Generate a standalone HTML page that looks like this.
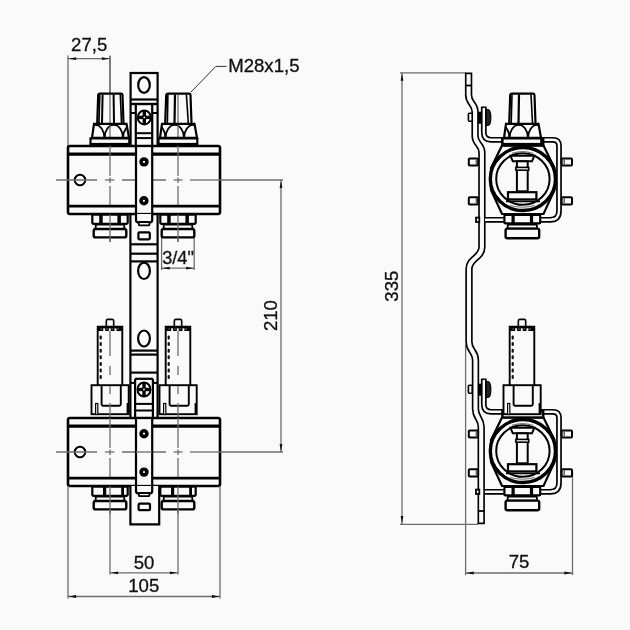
<!DOCTYPE html>
<html><head><meta charset="utf-8"><style>
html,body{margin:0;padding:0;background:#fafafa;}
svg{display:block;will-change:transform;}
text{fill:#111;font-family:"Liberation Sans",sans-serif;}
</style></head><body>
<svg width="630" height="630" viewBox="0 0 630 630">
<rect width="630" height="630" fill="#fafafa"/>
<line x1="68" y1="55.5" x2="68" y2="146" stroke="#6c6c6c" stroke-width="1.3" />
<line x1="110" y1="55.5" x2="110" y2="93" stroke="#6c6c6c" stroke-width="1.3" />
<line x1="68" y1="58.7" x2="110" y2="58.7" stroke="#6c6c6c" stroke-width="1.3" />
<path d="M68.6,58.7 L76.1,57.3 L76.1,60.1 Z" fill="#111"/>
<path d="M109.4,58.7 L101.9,57.3 L101.9,60.1 Z" fill="#111"/>
<text x="89.2" y="50.8" font-size="18.6" text-anchor="middle" stroke="#111" stroke-width="0.3" >27,5</text>
<path d="M191,92 L215.8,66.4 H226.5" stroke="#333" stroke-width="1" fill="none" />
<text x="228.2" y="72" font-size="18.6" text-anchor="start" stroke="#111" stroke-width="0.3" >M28x1,5</text>
<rect x="130.6" y="73" width="27" height="26.5" rx="0" stroke="#000" stroke-width="2.2" fill="#fafafa"/>
<ellipse cx="144" cy="85" rx="5.8" ry="7.8" stroke="#000" stroke-width="2.2" fill="none"/>
<line x1="130.6" y1="104" x2="157.6" y2="104" stroke="#000" stroke-width="2.4" />
<line x1="130.6" y1="100" x2="130.6" y2="146" stroke="#000" stroke-width="2.2" />
<line x1="157.6" y1="100" x2="157.6" y2="146" stroke="#000" stroke-width="2.2" />
<line x1="135.8" y1="104" x2="135.8" y2="146" stroke="#000" stroke-width="2.2" />
<line x1="152.2" y1="104" x2="152.2" y2="146" stroke="#000" stroke-width="2.2" />
<line x1="130.6" y1="113" x2="135.8" y2="113" stroke="#000" stroke-width="2" />
<line x1="152.2" y1="113" x2="157.6" y2="113" stroke="#000" stroke-width="2" />
<line x1="135.8" y1="133.2" x2="152.2" y2="133.2" stroke="#000" stroke-width="2" />
<line x1="135.8" y1="138.1" x2="152.2" y2="138.1" stroke="#000" stroke-width="2" />
<ellipse cx="144.3" cy="117.4" rx="6.5" ry="7" stroke="#000" stroke-width="2" fill="#fafafa"/>
<rect x="142.6" y="110.9" width="3.4" height="13" rx="0"  fill="#000"/>
<rect x="138.3" y="115.7" width="12" height="3.4" rx="0"  fill="#000"/>
<circle cx="144.3" cy="117.4" r="0.9"  fill="#fafafa"/>
<line x1="110" y1="56" x2="110" y2="146" stroke="#6c6c6c" stroke-width="1.3" />
<line x1="178" y1="93" x2="178" y2="146" stroke="#6c6c6c" stroke-width="1.3" />
<g transform="translate(110,0)">
<path d="M-12.8,123.5 L-11.8,95 Q-11.6,93.6 -10.2,93.6 L11,93.6 Q12.4,93.6 12.5,95 L13.5,123.5" stroke="#000" stroke-width="2.2" fill="#fafafa" />
<line x1="-10.2" y1="94.5" x2="-11" y2="123" stroke="#000" stroke-width="1.6" />
<line x1="-7.4" y1="94.5" x2="-8" y2="123" stroke="#000" stroke-width="2" />
<line x1="3.6" y1="94.5" x2="4" y2="123" stroke="#000" stroke-width="2" />
<line x1="10.3" y1="94.5" x2="11.5" y2="123" stroke="#000" stroke-width="1.6" />
<line x1="0" y1="94.5" x2="0" y2="123" stroke="#6c6c6c" stroke-width="1.3" />
<clipPath id="nc1"><path d="M-16,123.8 L16.5,123.8 L19,137.8 L-18,137.8 Z"/></clipPath>
<path d="M-16,123.8 L16.5,123.8 L19,137.8 L-18,137.8 Z" stroke="#000" stroke-width="0" fill="#fafafa" />
<g clip-path="url(#nc1)">
<path d="M-42.5,138 A9.25,13.2 0 0 1 -24,138" stroke="#000" stroke-width="1.8" fill="none" />
<path d="M-24,138 A9.25,13.2 0 0 1 -5.5,138" stroke="#000" stroke-width="1.8" fill="none" />
<path d="M-5.5,138 A9.25,13.2 0 0 1 13,138" stroke="#000" stroke-width="1.8" fill="none" />
<path d="M13,138 A9.25,13.2 0 0 1 31.5,138" stroke="#000" stroke-width="1.8" fill="none" />
<path d="M31.5,138 A9.25,13.2 0 0 1 50,138" stroke="#000" stroke-width="1.8" fill="none" />
</g>
<line x1="0" y1="124.5" x2="0" y2="137" stroke="#6c6c6c" stroke-width="1.3" />
<path d="M-16,123.8 L16.5,123.8 L19,137.8 L-18,137.8 Z" stroke="#000" stroke-width="2.2" fill="none" />
<rect x="-19.5" y="138.4" width="38.8" height="5.6" rx="0" stroke="#000" stroke-width="2.2" fill="#fafafa"/>
</g>
<g transform="translate(178,0)">
<path d="M-12.8,123.5 L-11.8,95 Q-11.6,93.6 -10.2,93.6 L11,93.6 Q12.4,93.6 12.5,95 L13.5,123.5" stroke="#000" stroke-width="2.2" fill="#fafafa" />
<line x1="-10.1" y1="94.5" x2="-10.6" y2="123" stroke="#000" stroke-width="1.6" />
<line x1="-3" y1="94.5" x2="-3.5" y2="123" stroke="#000" stroke-width="2.2" />
<line x1="8.4" y1="94.5" x2="10.3" y2="123" stroke="#000" stroke-width="1.6" />
<line x1="0" y1="94.5" x2="0" y2="123" stroke="#6c6c6c" stroke-width="1.3" />
<clipPath id="nc2"><path d="M-16,123.8 L16.5,123.8 L19,137.8 L-18,137.8 Z"/></clipPath>
<path d="M-16,123.8 L16.5,123.8 L19,137.8 L-18,137.8 Z" stroke="#000" stroke-width="0" fill="#fafafa" />
<g clip-path="url(#nc2)">
<path d="M-49.5,138 A9.25,13.2 0 0 1 -31,138" stroke="#000" stroke-width="1.8" fill="none" />
<path d="M-31,138 A9.25,13.2 0 0 1 -12.5,138" stroke="#000" stroke-width="1.8" fill="none" />
<path d="M-12.5,138 A9.25,13.2 0 0 1 6,138" stroke="#000" stroke-width="1.8" fill="none" />
<path d="M6,138 A9.25,13.2 0 0 1 24.5,138" stroke="#000" stroke-width="1.8" fill="none" />
<path d="M24.5,138 A9.25,13.2 0 0 1 43,138" stroke="#000" stroke-width="1.8" fill="none" />
</g>
<line x1="0" y1="124.5" x2="0" y2="137" stroke="#6c6c6c" stroke-width="1.3" />
<path d="M-16,123.8 L16.5,123.8 L19,137.8 L-18,137.8 Z" stroke="#000" stroke-width="2.2" fill="none" />
<rect x="-19.5" y="138.4" width="38.8" height="5.6" rx="0" stroke="#000" stroke-width="2.2" fill="#fafafa"/>
</g>
<path d="M70,146 H218 Q220,146 220,148 V212 Q220,214 218,214 H70 Q68,214 68,212 V148 Q68,146 70,146 Z" stroke="#000" stroke-width="2.6" fill="#fafafa" />
<line x1="68" y1="154.2" x2="220" y2="154.2" stroke="#000" stroke-width="3.2" />
<line x1="68" y1="206.1" x2="220" y2="206.1" stroke="#000" stroke-width="2.8" />
<circle cx="80" cy="180" r="5.3" stroke="#000" stroke-width="2" fill="none"/>
<line x1="56" y1="180" x2="97" y2="180" stroke="#6c6c6c" stroke-width="1.3" />
<line x1="105" y1="180" x2="114.5" y2="180" stroke="#6c6c6c" stroke-width="1.3" />
<line x1="122" y1="180" x2="166" y2="180" stroke="#6c6c6c" stroke-width="1.3" />
<line x1="173.5" y1="180" x2="182.5" y2="180" stroke="#6c6c6c" stroke-width="1.3" />
<line x1="190" y1="180" x2="220" y2="180" stroke="#6c6c6c" stroke-width="1.3" />
<line x1="110" y1="146" x2="110" y2="176" stroke="#6c6c6c" stroke-width="1.3" />
<line x1="110" y1="177.5" x2="110" y2="183" stroke="#6c6c6c" stroke-width="1.3" />
<line x1="110" y1="186" x2="110" y2="205" stroke="#6c6c6c" stroke-width="1.3" />
<line x1="110" y1="215" x2="110" y2="242" stroke="#6c6c6c" stroke-width="1.3" />
<line x1="178" y1="146" x2="178" y2="176" stroke="#6c6c6c" stroke-width="1.3" />
<line x1="178" y1="177.5" x2="178" y2="183" stroke="#6c6c6c" stroke-width="1.3" />
<line x1="178" y1="186" x2="178" y2="205" stroke="#6c6c6c" stroke-width="1.3" />
<line x1="178" y1="215" x2="178" y2="242" stroke="#6c6c6c" stroke-width="1.3" />
<rect x="136" y="147.5" width="16" height="65" rx="0"  fill="#fafafa"/>
<line x1="136" y1="146" x2="136" y2="214" stroke="#000" stroke-width="2.2" />
<line x1="152.2" y1="146" x2="152.2" y2="214" stroke="#000" stroke-width="2.2" />
<circle cx="144" cy="161.9" r="4.7"  fill="#000"/>
<circle cx="144" cy="161.9" r="1.1"  fill="#fafafa"/>
<circle cx="143.9" cy="200.8" r="4.7"  fill="#000"/>
<circle cx="143.9" cy="200.8" r="1.1"  fill="#fafafa"/>
<line x1="220" y1="180" x2="283" y2="180" stroke="#6c6c6c" stroke-width="1.3" />
<g transform="translate(110,214)">
<rect x="-17.7" y="0.6" width="35.4" height="9.2" rx="1" stroke="#000" stroke-width="2.2" fill="#fafafa"/>
<rect x="-10.8" y="0.6" width="3.5" height="9.2" rx="0"  fill="#000"/>
<rect x="7.4" y="0.6" width="3.5" height="9.2" rx="0"  fill="#000"/>
<rect x="-14.3" y="10.6" width="28.6" height="4.6" rx="1" stroke="#000" stroke-width="1.8" fill="#fafafa"/>
<rect x="-16.3" y="15" width="32.6" height="8.4" rx="2" stroke="#000" stroke-width="2.4" fill="#fafafa"/>
<line x1="0" y1="0.5" x2="0" y2="28" stroke="#6c6c6c" stroke-width="1.3" />
</g>
<g transform="translate(178,214)">
<rect x="-17.7" y="0.6" width="35.4" height="9.2" rx="1" stroke="#000" stroke-width="2.2" fill="#fafafa"/>
<rect x="-10.8" y="0.6" width="3.5" height="9.2" rx="0"  fill="#000"/>
<rect x="7.4" y="0.6" width="3.5" height="9.2" rx="0"  fill="#000"/>
<rect x="-14.3" y="10.6" width="28.6" height="4.6" rx="1" stroke="#000" stroke-width="1.8" fill="#fafafa"/>
<rect x="-16.3" y="15" width="32.6" height="8.4" rx="2" stroke="#000" stroke-width="2.4" fill="#fafafa"/>
<line x1="0" y1="0.5" x2="0" y2="28" stroke="#6c6c6c" stroke-width="1.3" />
</g>
<line x1="130.4" y1="214" x2="130.4" y2="418" stroke="#000" stroke-width="2.2" />
<line x1="157.6" y1="214" x2="157.6" y2="418" stroke="#000" stroke-width="2.2" />
<path d="M136,214 V220 Q136,222.3 138.3,222.3 H149.9 Q152.2,222.3 152.2,220 V214" stroke="#000" stroke-width="2.2" fill="#fafafa" />
<rect x="138.8" y="222" width="10.6" height="3.4" rx="1" stroke="#000" stroke-width="1.8" fill="#fafafa"/>
<rect x="138.4" y="232.3" width="11.4" height="7" rx="1" stroke="#000" stroke-width="2.2" fill="#fafafa"/>
<line x1="130.4" y1="244.3" x2="157.6" y2="244.3" stroke="#000" stroke-width="2.2" />
<line x1="130.4" y1="253.7" x2="157.6" y2="253.7" stroke="#000" stroke-width="2.2" />
<line x1="130.4" y1="261.4" x2="157.6" y2="261.4" stroke="#000" stroke-width="2.2" />
<ellipse cx="144" cy="270.8" rx="5.9" ry="8.2" stroke="#000" stroke-width="2.2" fill="none"/>
<line x1="161.6" y1="238" x2="161.6" y2="270" stroke="#6c6c6c" stroke-width="1.3" />
<line x1="194.2" y1="238" x2="194.2" y2="270" stroke="#6c6c6c" stroke-width="1.3" />
<line x1="161.6" y1="268.2" x2="194.2" y2="268.2" stroke="#6c6c6c" stroke-width="1.3" />
<path d="M162.2,268.2 L169.7,266.8 L169.7,269.6 Z" fill="#111"/>
<path d="M193.6,268.2 L186.1,266.8 L186.1,269.6 Z" fill="#111"/>
<text x="178" y="263.6" font-size="18.2" text-anchor="middle" stroke="#111" stroke-width="0.3" >3/4"</text>
<ellipse cx="144" cy="338.5" rx="5.9" ry="8" stroke="#000" stroke-width="2.2" fill="none"/>
<line x1="130.4" y1="350.6" x2="157.6" y2="350.6" stroke="#000" stroke-width="2.2" />
<line x1="130.4" y1="354.6" x2="157.6" y2="354.6" stroke="#000" stroke-width="2.2" />
<line x1="130.4" y1="372.6" x2="157.6" y2="372.6" stroke="#000" stroke-width="2.2" />
<line x1="135.1" y1="378.8" x2="135.1" y2="418" stroke="#000" stroke-width="2.2" />
<line x1="152.9" y1="378.8" x2="152.9" y2="418" stroke="#000" stroke-width="2.2" />
<line x1="135.1" y1="378.8" x2="152.9" y2="378.8" stroke="#000" stroke-width="2.2" />
<line x1="130.4" y1="382.9" x2="135.1" y2="382.9" stroke="#000" stroke-width="2" />
<line x1="152.9" y1="382.9" x2="157.6" y2="382.9" stroke="#000" stroke-width="2" />
<ellipse cx="144" cy="389.5" rx="6.5" ry="7" stroke="#000" stroke-width="2" fill="#fafafa"/>
<rect x="142.3" y="383" width="3.4" height="13" rx="0"  fill="#000"/>
<rect x="138" y="387.8" width="12" height="3.4" rx="0"  fill="#000"/>
<circle cx="144" cy="389.5" r="0.9"  fill="#fafafa"/>
<line x1="135.1" y1="403.9" x2="152.9" y2="403.9" stroke="#000" stroke-width="2" />
<line x1="135.1" y1="410.5" x2="152.9" y2="410.5" stroke="#000" stroke-width="2" />
<g transform="translate(110,0)">
<rect x="-3.7" y="319.4" width="7.4" height="8" rx="1.5" stroke="#000" stroke-width="1.6" fill="#fafafa"/>
<path d="M-12.3,385 V326.8 H12.3 V385" stroke="#000" stroke-width="1.9" fill="#fafafa" />
<rect x="-13" y="326" width="26" height="5" rx="0"  fill="#000"/>
<rect x="-6.8" y="328.3" width="1.9" height="2.9" rx="0"  fill="#fafafa"/>
<rect x="-1.2" y="328.3" width="1.9" height="2.9" rx="0"  fill="#fafafa"/>
<rect x="4.5" y="328.3" width="1.9" height="2.9" rx="0"  fill="#fafafa"/>
<rect x="-9.5" y="328" width="1.6" height="2" rx="0"  fill="#444"/>
<rect x="-3.9" y="328" width="1.6" height="2" rx="0"  fill="#444"/>
<rect x="1.6" y="328" width="1.6" height="2" rx="0"  fill="#444"/>
<rect x="7.3" y="328" width="1.6" height="2" rx="0"  fill="#444"/>
<rect x="-10.4" y="335.5" width="2.2" height="4" rx="1"  fill="#111"/>
<rect x="-10.4" y="342.1" width="2.2" height="4" rx="1"  fill="#111"/>
<rect x="-10.4" y="348.7" width="2.2" height="4" rx="1"  fill="#111"/>
<rect x="-10.4" y="355.3" width="2.2" height="4" rx="1"  fill="#111"/>
<rect x="-10.4" y="361.9" width="2.2" height="4" rx="1"  fill="#111"/>
<rect x="-10.4" y="368.5" width="2.2" height="4" rx="1"  fill="#111"/>
<rect x="-10.4" y="375.1" width="2.2" height="4" rx="1"  fill="#111"/>
<line x1="0" y1="331" x2="0" y2="356" stroke="#6c6c6c" stroke-width="1.3" />
<line x1="0" y1="366" x2="0" y2="375" stroke="#6c6c6c" stroke-width="1.3" />
<rect x="-18.5" y="385.2" width="37.2" height="29" rx="0" stroke="#000" stroke-width="1.9" fill="#fafafa"/>
<path d="M-8.4,385 V404.3 Q-8.4,405.8 -6.9,405.8 H9.3 Q10.8,405.8 10.8,404.3 V385" stroke="#000" stroke-width="1.9" fill="none" />
<rect x="-14.4" y="403.5" width="2.2" height="11" rx="0" stroke="#000" stroke-width="1.2" fill="#fafafa"/>
<rect x="16.6" y="403" width="2" height="11.3" rx="0"  fill="#000"/>
<line x1="0" y1="386" x2="0" y2="394" stroke="#6c6c6c" stroke-width="1.3" />
<line x1="0" y1="403" x2="0" y2="418" stroke="#6c6c6c" stroke-width="1.3" />
</g>
<g transform="translate(178,0)">
<rect x="-3.7" y="319.4" width="7.4" height="8" rx="1.5" stroke="#000" stroke-width="1.6" fill="#fafafa"/>
<path d="M-12.3,385 V326.8 H12.3 V385" stroke="#000" stroke-width="1.9" fill="#fafafa" />
<rect x="-13" y="326" width="26" height="5" rx="0"  fill="#000"/>
<rect x="-6.8" y="328.3" width="1.9" height="2.9" rx="0"  fill="#fafafa"/>
<rect x="-1.2" y="328.3" width="1.9" height="2.9" rx="0"  fill="#fafafa"/>
<rect x="4.5" y="328.3" width="1.9" height="2.9" rx="0"  fill="#fafafa"/>
<rect x="-9.5" y="328" width="1.6" height="2" rx="0"  fill="#444"/>
<rect x="-3.9" y="328" width="1.6" height="2" rx="0"  fill="#444"/>
<rect x="1.6" y="328" width="1.6" height="2" rx="0"  fill="#444"/>
<rect x="7.3" y="328" width="1.6" height="2" rx="0"  fill="#444"/>
<rect x="-10.4" y="335.5" width="2.2" height="4" rx="1"  fill="#111"/>
<rect x="-10.4" y="342.1" width="2.2" height="4" rx="1"  fill="#111"/>
<rect x="-10.4" y="348.7" width="2.2" height="4" rx="1"  fill="#111"/>
<rect x="-10.4" y="355.3" width="2.2" height="4" rx="1"  fill="#111"/>
<rect x="-10.4" y="361.9" width="2.2" height="4" rx="1"  fill="#111"/>
<rect x="-10.4" y="368.5" width="2.2" height="4" rx="1"  fill="#111"/>
<rect x="-10.4" y="375.1" width="2.2" height="4" rx="1"  fill="#111"/>
<line x1="0" y1="331" x2="0" y2="356" stroke="#6c6c6c" stroke-width="1.3" />
<line x1="0" y1="366" x2="0" y2="375" stroke="#6c6c6c" stroke-width="1.3" />
<rect x="-18.5" y="385.2" width="37.2" height="29" rx="0" stroke="#000" stroke-width="1.9" fill="#fafafa"/>
<path d="M-8.4,385 V404.3 Q-8.4,405.8 -6.9,405.8 H9.3 Q10.8,405.8 10.8,404.3 V385" stroke="#000" stroke-width="1.9" fill="none" />
<rect x="-14.4" y="403.5" width="2.2" height="11" rx="0" stroke="#000" stroke-width="1.2" fill="#fafafa"/>
<rect x="16.6" y="403" width="2" height="11.3" rx="0"  fill="#000"/>
<line x1="0" y1="386" x2="0" y2="394" stroke="#6c6c6c" stroke-width="1.3" />
<line x1="0" y1="403" x2="0" y2="418" stroke="#6c6c6c" stroke-width="1.3" />
</g>
<path d="M70,418 H218 Q220,418 220,420 V484 Q220,486 218,486 H70 Q68,486 68,484 V420 Q68,418 70,418 Z" stroke="#000" stroke-width="2.6" fill="#fafafa" />
<line x1="68" y1="426.2" x2="220" y2="426.2" stroke="#000" stroke-width="3.2" />
<line x1="68" y1="478.1" x2="220" y2="478.1" stroke="#000" stroke-width="2.8" />
<circle cx="80" cy="452" r="5.3" stroke="#000" stroke-width="2" fill="none"/>
<line x1="56" y1="452" x2="97" y2="452" stroke="#6c6c6c" stroke-width="1.3" />
<line x1="105" y1="452" x2="114.5" y2="452" stroke="#6c6c6c" stroke-width="1.3" />
<line x1="122" y1="452" x2="166" y2="452" stroke="#6c6c6c" stroke-width="1.3" />
<line x1="173.5" y1="452" x2="182.5" y2="452" stroke="#6c6c6c" stroke-width="1.3" />
<line x1="190" y1="452" x2="220" y2="452" stroke="#6c6c6c" stroke-width="1.3" />
<line x1="110" y1="418" x2="110" y2="448" stroke="#6c6c6c" stroke-width="1.3" />
<line x1="110" y1="449.5" x2="110" y2="455" stroke="#6c6c6c" stroke-width="1.3" />
<line x1="110" y1="458" x2="110" y2="477" stroke="#6c6c6c" stroke-width="1.3" />
<line x1="110" y1="487" x2="110" y2="510" stroke="#6c6c6c" stroke-width="1.3" />
<line x1="178" y1="418" x2="178" y2="448" stroke="#6c6c6c" stroke-width="1.3" />
<line x1="178" y1="449.5" x2="178" y2="455" stroke="#6c6c6c" stroke-width="1.3" />
<line x1="178" y1="458" x2="178" y2="477" stroke="#6c6c6c" stroke-width="1.3" />
<line x1="178" y1="487" x2="178" y2="510" stroke="#6c6c6c" stroke-width="1.3" />
<rect x="136" y="419.5" width="16" height="65" rx="0"  fill="#fafafa"/>
<line x1="136" y1="418" x2="136" y2="486" stroke="#000" stroke-width="2.2" />
<line x1="152.2" y1="418" x2="152.2" y2="486" stroke="#000" stroke-width="2.2" />
<line x1="136" y1="452" x2="152.2" y2="452" stroke="#6c6c6c" stroke-width="1.3" />
<circle cx="144" cy="433.7" r="4.7"  fill="#000"/>
<circle cx="144" cy="433.7" r="1.1"  fill="#fafafa"/>
<circle cx="144" cy="472.1" r="4.7"  fill="#000"/>
<circle cx="144" cy="472.1" r="1.1"  fill="#fafafa"/>
<line x1="220" y1="452" x2="283" y2="452" stroke="#6c6c6c" stroke-width="1.3" />
<line x1="281" y1="180" x2="281" y2="452" stroke="#6c6c6c" stroke-width="1.3" />
<path d="M281,180.6 L279.6,188.1 L282.4,188.1 Z" fill="#111"/>
<path d="M281,451.4 L279.6,443.9 L282.4,443.9 Z" fill="#111"/>
<text x="0" y="0" font-size="18.6" text-anchor="middle" stroke="#111" stroke-width="0.3" transform="translate(277,315.6) rotate(-90)">210</text>
<g transform="translate(110,486)">
<rect x="-17.7" y="0.6" width="35.4" height="9.2" rx="1" stroke="#000" stroke-width="2.2" fill="#fafafa"/>
<rect x="-7" y="0.6" width="3.2" height="9.2" rx="0"  fill="#000"/>
<rect x="11.2" y="0.6" width="2.8" height="9.2" rx="0"  fill="#000"/>
<rect x="-14.3" y="10.6" width="28.6" height="4.6" rx="1" stroke="#000" stroke-width="1.8" fill="#fafafa"/>
<rect x="-16.3" y="15" width="32.6" height="8.4" rx="2" stroke="#000" stroke-width="2.4" fill="#fafafa"/>
<line x1="0" y1="0.5" x2="0" y2="28" stroke="#6c6c6c" stroke-width="1.3" />
</g>
<g transform="translate(178,486)">
<rect x="-17.7" y="0.6" width="35.4" height="9.2" rx="1" stroke="#000" stroke-width="2.2" fill="#fafafa"/>
<rect x="-7" y="0.6" width="3.2" height="9.2" rx="0"  fill="#000"/>
<rect x="11.2" y="0.6" width="2.8" height="9.2" rx="0"  fill="#000"/>
<rect x="-14.3" y="10.6" width="28.6" height="4.6" rx="1" stroke="#000" stroke-width="1.8" fill="#fafafa"/>
<rect x="-16.3" y="15" width="32.6" height="8.4" rx="2" stroke="#000" stroke-width="2.4" fill="#fafafa"/>
<line x1="0" y1="0.5" x2="0" y2="28" stroke="#6c6c6c" stroke-width="1.3" />
</g>
<path d="M130.4,486 V524.3 H159.2 V486" stroke="#000" stroke-width="2.2" fill="#fafafa" />
<path d="M136,486 V491 Q136,493.4 138.4,493.4 H149.8 Q152.2,493.4 152.2,491 V486" stroke="#000" stroke-width="2.2" fill="#fafafa" />
<rect x="138.8" y="493" width="10.6" height="3.2" rx="1" stroke="#000" stroke-width="1.8" fill="#fafafa"/>
<rect x="138.6" y="503.7" width="11.4" height="6.5" rx="1" stroke="#000" stroke-width="2.2" fill="#fafafa"/>
<line x1="110" y1="510" x2="110" y2="574.5" stroke="#6c6c6c" stroke-width="1.3" />
<line x1="178" y1="510" x2="178" y2="574.5" stroke="#6c6c6c" stroke-width="1.3" />
<line x1="110" y1="572.8" x2="178" y2="572.8" stroke="#6c6c6c" stroke-width="1.3" />
<path d="M110.6,572.8 L118.1,571.4 L118.1,574.2 Z" fill="#111"/>
<path d="M177.4,572.8 L169.9,571.4 L169.9,574.2 Z" fill="#111"/>
<text x="144" y="568.6" font-size="18.6" text-anchor="middle" stroke="#111" stroke-width="0.3" >50</text>
<line x1="68" y1="486" x2="68" y2="598.5" stroke="#6c6c6c" stroke-width="1.3" />
<line x1="220" y1="486" x2="220" y2="598.5" stroke="#6c6c6c" stroke-width="1.3" />
<line x1="68" y1="596.5" x2="220" y2="596.5" stroke="#6c6c6c" stroke-width="1.3" />
<path d="M68.6,596.5 L76.1,595.1 L76.1,597.9 Z" fill="#111"/>
<path d="M219.4,596.5 L211.9,595.1 L211.9,597.9 Z" fill="#111"/>
<text x="143.8" y="591.5" font-size="18.6" text-anchor="middle" stroke="#111" stroke-width="0.3" >105</text>
<line x1="400" y1="72.8" x2="466" y2="72.8" stroke="#6c6c6c" stroke-width="1.3" />
<line x1="400" y1="524.3" x2="478" y2="524.3" stroke="#6c6c6c" stroke-width="1.3" />
<line x1="402" y1="72.8" x2="402" y2="524.3" stroke="#6c6c6c" stroke-width="1.3" />
<path d="M402,73.2 L400.6,80.7 L403.4,80.7 Z" fill="#111"/>
<path d="M402,523.4 L400.6,515.9 L403.4,515.9 Z" fill="#111"/>
<text x="0" y="0" font-size="18.6" text-anchor="middle" stroke="#111" stroke-width="0.3" transform="translate(398,286.2) rotate(-90)">335</text>
<line x1="465.6" y1="345" x2="465.6" y2="575" stroke="#6c6c6c" stroke-width="1.3" />
<line x1="572.5" y1="472" x2="572.5" y2="575" stroke="#6c6c6c" stroke-width="1.3" />
<line x1="465.6" y1="573" x2="572.5" y2="573" stroke="#6c6c6c" stroke-width="1.3" />
<path d="M466.2,573 L473.7,571.6 L473.7,574.4 Z" fill="#111"/>
<path d="M571.9,573 L564.4,571.6 L564.4,574.4 Z" fill="#111"/>
<text x="519" y="568.4" font-size="18.6" text-anchor="middle" stroke="#111" stroke-width="0.3" >75</text>
<path d="M468.6,72.5 V95 C468.6,103.5 475.1,103.5 475.1,112 V136 C475.1,144.25 481.9,144.25 481.9,152.5 V247 C481.9,258 469,258 469,269 V342 C469,351 475.5,351 475.5,360 V409 C475.5,418 481.2,418 481.2,427 V524.2" stroke="#000" stroke-width="7.4" fill="none" stroke-linejoin="miter"/>
<path d="M468.6,74.2 V95 C468.6,103.5 475.1,103.5 475.1,112 V136 C475.1,144.25 481.9,144.25 481.9,152.5 V247 C481.9,258 469,258 469,269 V342 C469,351 475.5,351 475.5,360 V409 C475.5,418 481.2,418 481.2,427 V522.5" stroke="#fafafa" stroke-width="4.1" fill="none" />
<line x1="466" y1="85.5" x2="471.5" y2="85.5" stroke="#000" stroke-width="1.8" />
<line x1="478" y1="511" x2="484.5" y2="511" stroke="#000" stroke-width="1.8" />
<g transform="translate(0,0)">
<rect x="468.8" y="158.4" width="9.3" height="7.2" rx="1" stroke="#000" stroke-width="2" fill="#fafafa"/>
<rect x="475.6" y="159.2" width="1.6" height="5.6" rx="0"  fill="#666"/>
<rect x="468.8" y="197.2" width="9.3" height="7.2" rx="1" stroke="#000" stroke-width="2" fill="#fafafa"/>
<rect x="475.6" y="198" width="1.6" height="5.6" rx="0"  fill="#666"/>
<rect x="476" y="217.6" width="3.3" height="4.4" rx="0" stroke="#000" stroke-width="1.8" fill="#fafafa"/>
<path d="M483.8,106.5 V132.5 Q483.8,139.8 491,139.8 H553 Q559,139.8 559,145.8 V211 Q559,219.8 550.2,219.8 H485" stroke="#000" stroke-width="5.8" fill="none" stroke-linejoin="round"/>
<path d="M483.8,108.1 V132.5 Q483.8,139.8 491,139.8 H553 Q559,139.8 559,145.8 V211 Q559,219.8 550.2,219.8 H485" stroke="#fafafa" stroke-width="2.4" fill="none" />
<rect x="468.4" y="113.2" width="3.8" height="8" rx="1" stroke="#000" stroke-width="1.6" fill="#fafafa"/>
<rect x="477.9" y="111.7" width="3.7" height="12" rx="0"  fill="#000"/>
<path d="M486,109.5 H487.8 Q490.8,109.5 490.8,117.5 Q490.8,125.5 487.8,125.5 H486 Z" stroke="#000" stroke-width="1.2" fill="#222" />
<rect x="561.6" y="158.4" width="10.4" height="7.2" rx="1" stroke="#000" stroke-width="2" fill="#fafafa"/>
<rect x="563.4" y="159.2" width="1.6" height="5.6" rx="0"  fill="#666"/>
<rect x="561.6" y="197.2" width="10.4" height="7.2" rx="1" stroke="#000" stroke-width="2" fill="#fafafa"/>
<rect x="563.4" y="198" width="1.6" height="5.6" rx="0"  fill="#666"/>
<path d="M502,145.5 L491,168 L491,190 L502,214 H543.5 L554.5,190 V168 L543.5,145.5 Z" stroke="#000" stroke-width="2.2" fill="#fafafa" />
<ellipse cx="522.9" cy="179" rx="32.6" ry="31.5" stroke="#000" stroke-width="3.4" fill="#fafafa"/>
<ellipse cx="522.9" cy="179" rx="26.7" ry="25.8" stroke="#000" stroke-width="2" fill="#fafafa"/>
<path d="M510.5,155.8 H534.3 L532,161.3 H512.8 Z" stroke="#000" stroke-width="2" fill="#fafafa" />
<path d="M512,153.4 Q522.5,149.8 533,153.4" stroke="#777" stroke-width="1.2" fill="none" />
<rect x="516.9" y="161.3" width="10.8" height="30" rx="0" stroke="#000" stroke-width="2" fill="#fafafa"/>
<rect x="515.9" y="167.4" width="12.8" height="2.8" rx="0" stroke="#000" stroke-width="1.6" fill="#fafafa"/>
<rect x="508" y="192.2" width="28.4" height="7.2" rx="0" stroke="#000" stroke-width="2.2" fill="#fafafa"/>
<line x1="506" y1="201.4" x2="540" y2="201.4" stroke="#000" stroke-width="1.8" />
<path d="M510,205.5 Q522.5,209 535,205.5" stroke="#777" stroke-width="1.2" fill="none" />
<rect x="502.4" y="138.9" width="40.8" height="6.6" rx="0" stroke="#000" stroke-width="2.4" fill="#fafafa"/>
<rect x="504.4" y="214.8" width="35.8" height="8.6" rx="1" stroke="#000" stroke-width="2.2" fill="#fafafa"/>
<rect x="511.5" y="215" width="3.2" height="8.4" rx="0"  fill="#000"/>
<rect x="529.9" y="215" width="3.2" height="8.4" rx="0"  fill="#000"/>
<rect x="507.7" y="224.6" width="29.2" height="4" rx="1" stroke="#000" stroke-width="1.8" fill="#fafafa"/>
<rect x="505.6" y="228.6" width="33.6" height="9.6" rx="2" stroke="#000" stroke-width="2.4" fill="#fafafa"/>
</g>
<g transform="translate(522,0)">
<path d="M-12.8,123.5 L-11.8,95 Q-11.6,93.6 -10.2,93.6 L11,93.6 Q12.4,93.6 12.5,95 L13.5,123.5" stroke="#000" stroke-width="2.2" fill="#fafafa" />
<line x1="-10" y1="94.5" x2="-10.8" y2="123" stroke="#000" stroke-width="1.6" />
<line x1="-3" y1="94.5" x2="-3.5" y2="123" stroke="#000" stroke-width="2.2" />
<line x1="9" y1="94.5" x2="10.5" y2="123" stroke="#000" stroke-width="1.6" />
<clipPath id="nc3"><path d="M-16,123.8 L16.5,123.8 L19,137.8 L-18,137.8 Z"/></clipPath>
<path d="M-16,123.8 L16.5,123.8 L19,137.8 L-18,137.8 Z" stroke="#000" stroke-width="0" fill="#fafafa" />
<g clip-path="url(#nc3)">
<path d="M-49.5,138 A9.25,13.2 0 0 1 -31,138" stroke="#000" stroke-width="1.8" fill="none" />
<path d="M-31,138 A9.25,13.2 0 0 1 -12.5,138" stroke="#000" stroke-width="1.8" fill="none" />
<path d="M-12.5,138 A9.25,13.2 0 0 1 6,138" stroke="#000" stroke-width="1.8" fill="none" />
<path d="M6,138 A9.25,13.2 0 0 1 24.5,138" stroke="#000" stroke-width="1.8" fill="none" />
<path d="M24.5,138 A9.25,13.2 0 0 1 43,138" stroke="#000" stroke-width="1.8" fill="none" />
</g>
<path d="M-16,123.8 L16.5,123.8 L19,137.8 L-18,137.8 Z" stroke="#000" stroke-width="2.2" fill="none" />
<rect x="-19.5" y="138.4" width="38.8" height="5.6" rx="0" stroke="#000" stroke-width="2.2" fill="#fafafa"/>
</g>
<g transform="translate(0,272)">
<rect x="468.8" y="158.4" width="9.3" height="7.2" rx="1" stroke="#000" stroke-width="2" fill="#fafafa"/>
<rect x="475.6" y="159.2" width="1.6" height="5.6" rx="0"  fill="#666"/>
<rect x="468.8" y="197.2" width="9.3" height="7.2" rx="1" stroke="#000" stroke-width="2" fill="#fafafa"/>
<rect x="475.6" y="198" width="1.6" height="5.6" rx="0"  fill="#666"/>
<rect x="476" y="217.6" width="3.3" height="4.4" rx="0" stroke="#000" stroke-width="1.8" fill="#fafafa"/>
<path d="M483.8,106.5 V132.5 Q483.8,139.8 491,139.8 H553 Q559,139.8 559,145.8 V211 Q559,219.8 550.2,219.8 H485" stroke="#000" stroke-width="5.8" fill="none" stroke-linejoin="round"/>
<path d="M483.8,108.1 V132.5 Q483.8,139.8 491,139.8 H553 Q559,139.8 559,145.8 V211 Q559,219.8 550.2,219.8 H485" stroke="#fafafa" stroke-width="2.4" fill="none" />
<rect x="468.4" y="113.2" width="3.8" height="8" rx="1" stroke="#000" stroke-width="1.6" fill="#fafafa"/>
<rect x="477.9" y="111.7" width="3.7" height="12" rx="0"  fill="#000"/>
<path d="M486,109.5 H487.8 Q490.8,109.5 490.8,117.5 Q490.8,125.5 487.8,125.5 H486 Z" stroke="#000" stroke-width="1.2" fill="#222" />
<rect x="561.6" y="158.4" width="10.4" height="7.2" rx="1" stroke="#000" stroke-width="2" fill="#fafafa"/>
<rect x="563.4" y="159.2" width="1.6" height="5.6" rx="0"  fill="#666"/>
<rect x="561.6" y="197.2" width="10.4" height="7.2" rx="1" stroke="#000" stroke-width="2" fill="#fafafa"/>
<rect x="563.4" y="198" width="1.6" height="5.6" rx="0"  fill="#666"/>
<path d="M502,145.5 L491,168 L491,190 L502,214 H543.5 L554.5,190 V168 L543.5,145.5 Z" stroke="#000" stroke-width="2.2" fill="#fafafa" />
<ellipse cx="522.9" cy="179" rx="32.6" ry="31.5" stroke="#000" stroke-width="3.4" fill="#fafafa"/>
<ellipse cx="522.9" cy="179" rx="26.7" ry="25.8" stroke="#000" stroke-width="2" fill="#fafafa"/>
<path d="M510.5,155.8 H534.3 L532,161.3 H512.8 Z" stroke="#000" stroke-width="2" fill="#fafafa" />
<path d="M512,153.4 Q522.5,149.8 533,153.4" stroke="#777" stroke-width="1.2" fill="none" />
<rect x="516.9" y="161.3" width="10.8" height="30" rx="0" stroke="#000" stroke-width="2" fill="#fafafa"/>
<rect x="515.9" y="167.4" width="12.8" height="2.8" rx="0" stroke="#000" stroke-width="1.6" fill="#fafafa"/>
<rect x="508" y="192.2" width="28.4" height="7.2" rx="0" stroke="#000" stroke-width="2.2" fill="#fafafa"/>
<line x1="506" y1="201.4" x2="540" y2="201.4" stroke="#000" stroke-width="1.8" />
<path d="M510,205.5 Q522.5,209 535,205.5" stroke="#777" stroke-width="1.2" fill="none" />
<rect x="502.4" y="138.9" width="40.8" height="6.6" rx="0" stroke="#000" stroke-width="2.4" fill="#fafafa"/>
<rect x="504.4" y="214.8" width="35.8" height="8.6" rx="1" stroke="#000" stroke-width="2.2" fill="#fafafa"/>
<rect x="511.5" y="215" width="3.2" height="8.4" rx="0"  fill="#000"/>
<rect x="529.9" y="215" width="3.2" height="8.4" rx="0"  fill="#000"/>
<rect x="507.7" y="224.6" width="29.2" height="4" rx="1" stroke="#000" stroke-width="1.8" fill="#fafafa"/>
<rect x="505.6" y="228.6" width="33.6" height="9.6" rx="2" stroke="#000" stroke-width="2.4" fill="#fafafa"/>
</g>
<g transform="translate(522,0)">
<rect x="-3.7" y="319.4" width="7.4" height="8" rx="1.5" stroke="#000" stroke-width="1.6" fill="#fafafa"/>
<path d="M-12.3,385 V326.8 H12.3 V385" stroke="#000" stroke-width="1.9" fill="#fafafa" />
<rect x="-13" y="326" width="26" height="5" rx="0"  fill="#000"/>
<rect x="-6.8" y="328.3" width="1.9" height="2.9" rx="0"  fill="#fafafa"/>
<rect x="-1.2" y="328.3" width="1.9" height="2.9" rx="0"  fill="#fafafa"/>
<rect x="4.5" y="328.3" width="1.9" height="2.9" rx="0"  fill="#fafafa"/>
<rect x="-9.5" y="328" width="1.6" height="2" rx="0"  fill="#444"/>
<rect x="-3.9" y="328" width="1.6" height="2" rx="0"  fill="#444"/>
<rect x="1.6" y="328" width="1.6" height="2" rx="0"  fill="#444"/>
<rect x="7.3" y="328" width="1.6" height="2" rx="0"  fill="#444"/>
<rect x="-10.4" y="335.5" width="2.2" height="4" rx="1"  fill="#111"/>
<rect x="-10.4" y="342.1" width="2.2" height="4" rx="1"  fill="#111"/>
<rect x="-10.4" y="348.7" width="2.2" height="4" rx="1"  fill="#111"/>
<rect x="-10.4" y="355.3" width="2.2" height="4" rx="1"  fill="#111"/>
<rect x="-10.4" y="361.9" width="2.2" height="4" rx="1"  fill="#111"/>
<rect x="-10.4" y="368.5" width="2.2" height="4" rx="1"  fill="#111"/>
<rect x="-10.4" y="375.1" width="2.2" height="4" rx="1"  fill="#111"/>
<rect x="-18.5" y="385.2" width="37.2" height="29" rx="0" stroke="#000" stroke-width="1.9" fill="#fafafa"/>
<path d="M-8.4,385 V404.3 Q-8.4,405.8 -6.9,405.8 H9.3 Q10.8,405.8 10.8,404.3 V385" stroke="#000" stroke-width="1.9" fill="none" />
<rect x="-14.4" y="403.5" width="2.2" height="11" rx="0" stroke="#000" stroke-width="1.2" fill="#fafafa"/>
<rect x="16.6" y="403" width="2" height="11.3" rx="0"  fill="#000"/>
</g>
</svg>
</body></html>
